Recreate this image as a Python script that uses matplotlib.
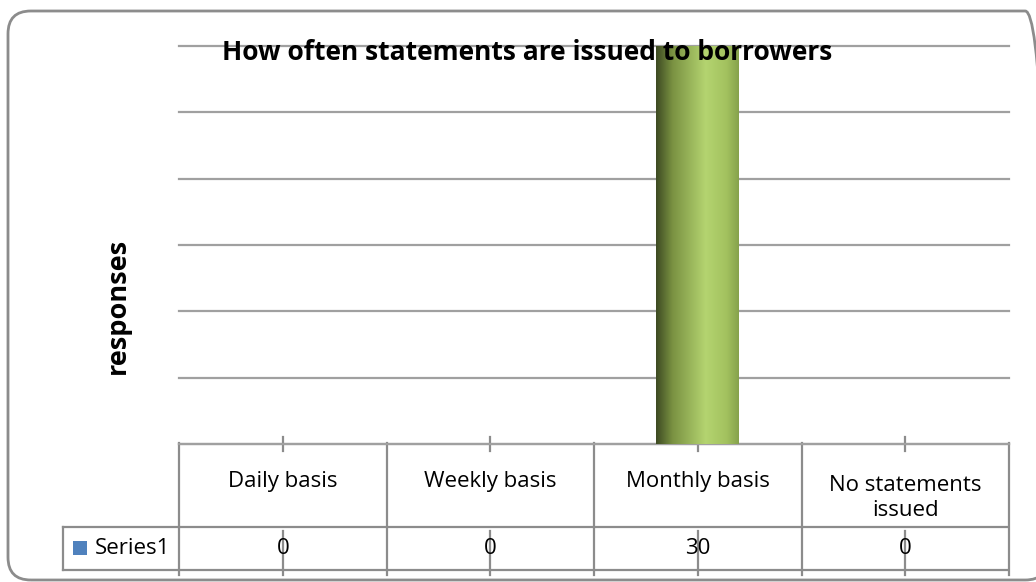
import numpy as np
import matplotlib.pyplot as plt
from matplotlib.patches import FancyBboxPatch, Rectangle
from matplotlib.lines import Line2D
import matplotlib.transforms as mtransforms
from matplotlib.colors import LinearSegmentedColormap

plt.rcParams['font.family'] = ['Open Sans', 'DejaVu Sans']

# data
categories = ['Daily basis', 'Weekly basis', 'Monthly basis', 'No statements\nissued']
values = [0, 0, 30, 0]
series_name = 'Series1'
title = 'How often statements are issued to borrowers'
ylabel = 'responses'

W, H = 1036, 582
fig = plt.figure(figsize=(W / 100, H / 100), dpi=100)

def fx(px):
    return px / W

def fy(py):
    return 1 - py / H

# rounded outer frame (runs off the right edge, like the reference)
frame = FancyBboxPatch((fx(8), fy(580)), fx(1040), (580 - 11) / H,
                       boxstyle='round,pad=0,rounding_size=0.022',
                       transform=fig.transFigure, fill=False, clip_on=False,
                       edgecolor='#8c8c8c', linewidth=2, mutation_aspect=W / H)
fig.patches.append(frame)

ax_left, ax_right, ax_top, ax_bot = 179, 1009, 46, 444
ax = fig.add_axes([fx(ax_left), fy(ax_bot), fx(ax_right - ax_left), (ax_bot - ax_top) / H])

x = np.arange(len(categories))
ax.set_xlim(-0.5, len(categories) - 0.5)
ax.set_ylim(0, 30)
ax.set_yticks(np.arange(0, 31, 5))
ax.yaxis.grid(True, color='#a0a0a0', linewidth=1.6)
for gl in ax.get_ygridlines():
    gl.set_clip_on(False)
ax.set_axisbelow(True)
ax.tick_params(left=False, labelleft=False, bottom=False, labelbottom=False)
for s in ['top', 'right', 'left']:
    ax.spines[s].set_visible(False)
ax.spines['bottom'].set_color('#a0a0a0')
ax.spines['bottom'].set_linewidth(1.6)

# bars with cylinder-like gradient
cmap = LinearSegmentedColormap.from_list(
    'grn', [(0, '#3d4a22'), (0.2, '#7a9242'), (0.6, '#b4d470'), (0.85, '#a3c25f'), (1, '#86a24c')])
bars = ax.bar(x, values, width=0.4, color='#9bbb59', zorder=3)
grad = np.linspace(0, 1, 256).reshape(1, -1)
for b in bars:
    if b.get_height() <= 0:
        continue
    im = ax.imshow(grad, cmap=cmap, aspect='auto', zorder=4,
                   extent=[b.get_x(), b.get_x() + b.get_width(), 0, b.get_height()])
    im.set_clip_path(b)
ax.set_xlim(-0.5, len(categories) - 0.5)
ax.set_ylim(0, 30)

# data table below the axis
trans = mtransforms.blended_transform_factory(ax.transData, fig.transFigure)
row1_bot, row2_bot = 527, 570
lc = '#8c8c8c'
lw = 1.6
fs = 16
edges = np.arange(len(categories) + 1) - 0.5
for e in edges:
    ax.add_line(Line2D([e, e], [fy(443), fy(575)], transform=trans, color=lc, lw=lw, clip_on=False))
for xi in x:
    ax.add_line(Line2D([xi, xi], [fy(437), fy(451)], transform=trans, color=lc, lw=lw, clip_on=False))
    ax.add_line(Line2D([xi, xi], [fy(531), fy(575)], transform=trans, color=lc, lw=lw, clip_on=False))
fig.add_artist(Line2D([fx(ax_left), fx(1008)], [fy(row1_bot), fy(row1_bot)], color=lc, lw=lw))
fig.add_artist(Line2D([fx(63), fx(1008)], [fy(row2_bot), fy(row2_bot)], color=lc, lw=lw))
fig.add_artist(Line2D([fx(63), fx(ax_left)], [fy(row1_bot), fy(row1_bot)], color=lc, lw=lw))
fig.add_artist(Line2D([fx(63), fx(63)], [fy(row1_bot), fy(row2_bot)], color=lc, lw=lw))

for xi, cat, v in zip(x, categories, values):
    nlines = cat.count('\n') + 1
    ax.text(xi, fy(481 + 17 * (nlines - 1)), cat, transform=trans, ha='center', va='center',
            fontsize=fs, linespacing=1.22, color='#000000')
    ax.text(xi, fy((row1_bot + row2_bot) / 2), str(v), transform=trans, ha='center', va='center',
            fontsize=fs, color='#000000')

fig.patches.append(Rectangle((fx(73), fy(555)), fx(14), 14 / H, transform=fig.transFigure,
                             facecolor='#4f81bd', edgecolor='none'))
fig.text(fx(95), fy((row1_bot + row2_bot) / 2), series_name, ha='left', va='center', fontsize=fs)

fig.text(fx(527), fy(53), title, ha='center', va='center', fontsize=19, fontweight='bold')
fig.text(fx(118), fy(306), ylabel, ha='center', va='center', rotation=90, fontsize=19.5, fontweight='bold')

fig.savefig('out.png', dpi=100)
